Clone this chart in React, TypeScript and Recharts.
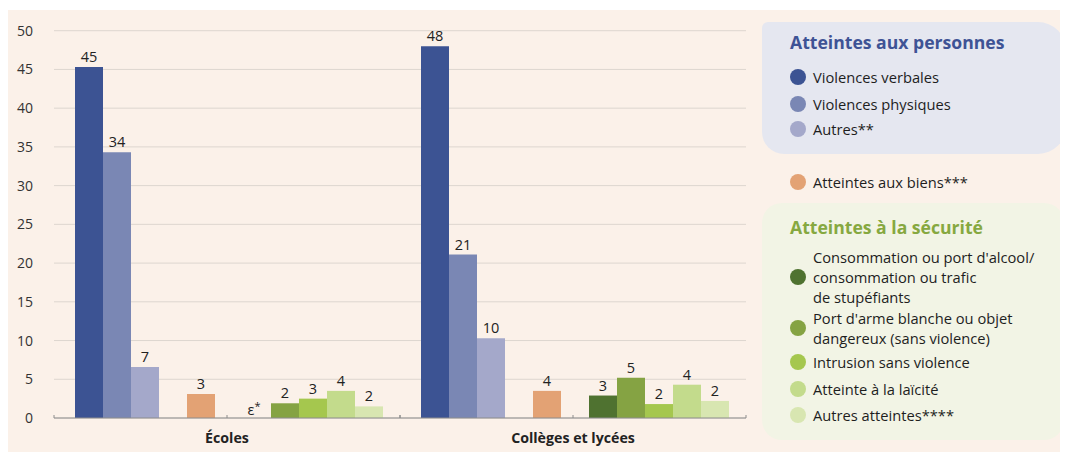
import React from 'react';
import { BarChart, Bar, XAxis, YAxis, CartesianGrid, LabelList } from 'recharts';

// ---- Data ----
const categories = ['Écoles', 'Collèges et lycées'];
const violencesVerbales = [45.3, 48.0];
const violencesPhysiques = [34.3, 21.1];
const autresPersonnes = [6.6, 10.3];
const atteintesBiens = [3.1, 3.5];
const alcoolStupefiants = [0, 2.9];
const armeBlanche = [1.9, 5.2];
const intrusionSansViolence = [2.5, 1.8];
const atteinteLaicite = [3.5, 4.3];
const autresAtteintes = [1.5, 2.2];
const yTicks = [0, 5, 10, 15, 20, 25, 30, 35, 40, 45, 50];

const personnesTitle = 'Atteintes aux personnes';
const securiteTitle = 'Atteintes à la sécurité';

type Series = { key: string; values: number[] | null; color: string; label: string[] };

const series: Series[] = [
  { key: 'verbales', values: violencesVerbales, color: '#3C5393', label: ['Violences verbales'] },
  { key: 'physiques', values: violencesPhysiques, color: '#7A87B4', label: ['Violences physiques'] },
  { key: 'autresP', values: autresPersonnes, color: '#A4A8CA', label: ['Autres**'] },
  { key: 'gap1', values: null, color: 'transparent', label: [] },
  { key: 'biens', values: atteintesBiens, color: '#E3A274', label: ['Atteintes aux biens***'] },
  { key: 'gap2', values: null, color: 'transparent', label: [] },
  { key: 'alcool', values: alcoolStupefiants, color: '#4F7230', label: ["Consommation ou port d'alcool/", 'consommation ou trafic', 'de stupéfiants'] },
  { key: 'arme', values: armeBlanche, color: '#85A343', label: ["Port d'arme blanche ou objet", 'dangereux (sans violence)'] },
  { key: 'intrusion', values: intrusionSansViolence, color: '#A5C74E', label: ['Intrusion sans violence'] },
  { key: 'laicite', values: atteinteLaicite, color: '#C3DB8C', label: ['Atteinte à la laïcité'] },
  { key: 'autresA', values: autresAtteintes, color: '#D8E6B1', label: ['Autres atteintes****'] },
];

const data = categories.map((c, i) => {
  const row: Record<string, any> = { category: c };
  series.forEach((s) => {
    if (s.values) row[s.key] = s.values[i];
  });
  return row;
});

const FONT = '"Open Sans", sans-serif';

const renderLabel = (props: any) => {
  const { x, y, width, value } = props;
  if (value === undefined || value === null) return null;
  const cx = Number(x) + Number(width) / 2;
  const cy = Number(y) - 5;
  if (Number(value) === 0) {
    return (
      <text x={cx - 3} y={cy + 2} textAnchor="middle" fontSize={14.5} fill="#222" fontFamily={FONT}>
        ε<tspan dy={-5} fontSize={11}>*</tspan>
      </text>
    );
  }
  return (
    <text x={cx} y={cy} textAnchor="middle" fontSize={14.5} fill="#222" fontFamily={FONT}>
      {Math.round(Number(value))}
    </text>
  );
};

const XTick = (props: any) => {
  const { x, y, payload } = props;
  const half = 173;
  return (
    <g>
      {[x - half, x, x + half].map((tx: number, i: number) => (
        <line key={i} x1={tx} x2={tx} y1={y - 3} y2={y} stroke="#8C8C8C" strokeWidth={1} />
      ))}
      <text x={x} y={y + 25} textAnchor="middle" fontSize={14.2} fontWeight={700} fill="#222" fontFamily={FONT}>
        {payload.value}
      </text>
    </g>
  );
};

const Dot = ({ color, top }: { color: string; top: number }) => (
  <div
    style={{
      position: 'absolute',
      left: 782,
      top: top - 8,
      width: 16,
      height: 16,
      borderRadius: 8,
      background: color,
    }}
  />
);

const LegendItem = ({ s, center }: { s: Series; center: number }) => {
  const lh = 20;
  const n = s.label.length;
  const top = center - (n * lh) / 2;
  return (
    <>
      <Dot color={s.color} top={center} />
      <div
        style={{
          position: 'absolute',
          left: 805,
          top,
          lineHeight: `${lh}px`,
          fontSize: 14.7,
          color: '#1E1E1E',
          whiteSpace: 'nowrap',
        }}
      >
        {s.label.map((l, i) => (
          <div key={i}>{l}</div>
        ))}
      </div>
    </>
  );
};

export default function App() {
  const byKey = (k: string) => series.find((s) => s.key === k)!;
  return (
    <div style={{ position: 'relative', width: 1060, height: 444, background: '#fff', fontFamily: FONT }}>
      <div style={{ position: 'absolute', left: 0, top: 2, width: 1060, height: 442, background: '#FBF1E9' }} />
      <div style={{ position: 'absolute', left: 0, top: 0 }}>
        <BarChart
          width={750}
          height={444}
          data={data}
          margin={{ top: 22.7, right: 12, bottom: 4, left: 0 }}
          barCategoryGap={21}
          barGap={0}
        >
          <CartesianGrid vertical={false} stroke="#DDD6CF" />
          <YAxis
            width={46}
            domain={[0, 50]}
            ticks={yTicks}
            axisLine={false}
            tickLine={false}
            tickSize={0}
            tickMargin={21}
            tick={{ fontSize: 14, fill: '#333', fontFamily: FONT }}
            interval={0}
          />
          <XAxis
            dataKey="category"
            height={30}
            axisLine={{ stroke: '#8C8C8C' }}
            tickLine={false}
            tickSize={0}
            tickMargin={0}
            tick={<XTick />}
            interval={0}
          />
          {series.map((s) => (
            <Bar
              key={s.key}
              dataKey={s.key}
              fill={s.color}
              isAnimationActive={false}
              legendType="none"
              minPointSize={s.values ? 0.01 : 0}
            >
              {s.values ? <LabelList dataKey={s.key} content={renderLabel} /> : null}
            </Bar>
          ))}
        </BarChart>
      </div>

      {/* Legend: personnes */}
      <div
        style={{
          position: 'absolute',
          left: 754,
          top: 14,
          width: 304,
          height: 132,
          background: '#E5E7F0',
          borderRadius: '6px 28px 28px 22px',
        }}
      />
      <div
        style={{
          position: 'absolute',
          left: 782,
          top: 23,
          fontSize: 17.6,
          fontWeight: 700,
          color: '#3E5395',
          whiteSpace: 'nowrap',
          lineHeight: '23px',
        }}
      >
        {personnesTitle}
      </div>
      <LegendItem s={byKey('verbales')} center={69.3} />
      <LegendItem s={byKey('physiques')} center={96} />
      <LegendItem s={byKey('autresP')} center={121.3} />

      <LegendItem s={byKey('biens')} center={173.7} />

      {/* Legend: sécurité */}
      <div
        style={{
          position: 'absolute',
          left: 754,
          top: 195,
          width: 302,
          height: 237,
          background: '#F2F4E5',
          borderRadius: 20,
        }}
      />
      <div
        style={{
          position: 'absolute',
          left: 782,
          top: 208,
          fontSize: 17.6,
          fontWeight: 700,
          color: '#86A840',
          whiteSpace: 'nowrap',
          lineHeight: '23px',
        }}
      >
        {securiteTitle}
      </div>
      <LegendItem s={byKey('alcool')} center={268.7} />
      <LegendItem s={byKey('arme')} center={320.3} />
      <LegendItem s={byKey('intrusion')} center={354.3} />
      <LegendItem s={byKey('laicite')} center={381} />
      <LegendItem s={byKey('autresA')} center={407} />
    </div>
  );
}
